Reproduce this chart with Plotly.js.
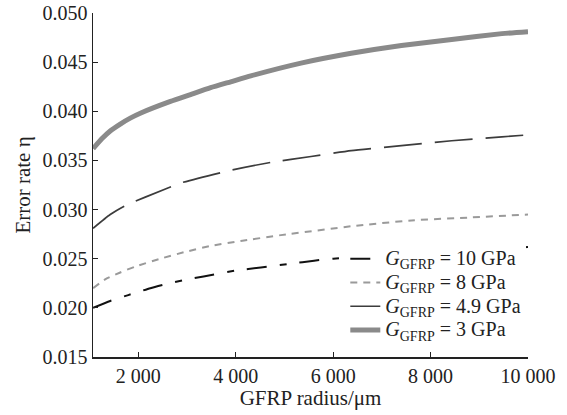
<!DOCTYPE html>
<html><head><meta charset="utf-8">
<script src="https://cdn.plot.ly/plotly-3.0.1.min.js"></script>
<style>html,body{margin:0;padding:0;background:#fff}#c{width:567px;height:415px}</style>
</head><body><div id="c"></div>
<script>
const r3 = [1072, 1250, 1423, 1630, 1835, 2041, 2660, 3072, 3485, 3897, 4309, 5340, 6371, 7402, 8433, 9464, 10000];
const eta3 = [0.0362, 0.0372, 0.0380, 0.0387, 0.0393, 0.0398, 0.0410, 0.0417, 0.0424, 0.0430, 0.0436, 0.0449, 0.0459, 0.0467, 0.0473, 0.0479, 0.0481];
const r49 = [1072, 1423, 1732, 2557, 2866, 3897, 4722, 5546, 6371, 7402, 8433, 9464, 10000];
const eta49 = [0.0281, 0.0295, 0.0304, 0.0321, 0.0327, 0.0340, 0.0348, 0.0354, 0.0360, 0.0365, 0.0370, 0.0374, 0.0376];
const r8 = [1072, 1320, 1629, 1938, 2454, 2969, 3485, 4103, 4928, 6371, 7608, 8845, 10000];
const eta8 = [0.0220, 0.0229, 0.0236, 0.0242, 0.0250, 0.0257, 0.0263, 0.0268, 0.0274, 0.0283, 0.0289, 0.0292, 0.0295];
const r10 = [1072, 1423, 1794, 2247, 2557, 2907, 3340, 4000, 4516, 5134, 5608, 6000, 7000, 8000, 9000, 10000];
const eta10 = [0.0200, 0.0207, 0.0213, 0.0220, 0.0224, 0.0228, 0.0232, 0.0238, 0.0241, 0.0245, 0.0248, 0.0250, 0.0253, 0.0256, 0.0259, 0.0262];
const gpa = ["10", "8", "4.9", "3"];
const names = gpa.map(g => '<span style="font-size:20px"><i>G</i><sub>GFRP</sub> = ' + g + ' GPa</span>');
const xTicks = [2000, 4000, 6000, 8000, 10000];
const xTickText = ["2 000", "4 000", "6 000", "8 000", "10 000"];
const yTicks = [0.015, 0.020, 0.025, 0.030, 0.035, 0.040, 0.045, 0.050];
const yTickText = ["0.015", "0.020", "0.025", "0.030", "0.035", "0.040", "0.045", "0.050"];

const traces = [
  {x: r10, y: eta10, name: names[0], mode: "lines", line: {color: "#111", width: 2, dash: "20px,13px,7px,13px", shape: "spline", smoothing: 0.5}},
  {x: r8, y: eta8, name: names[1], mode: "lines", line: {color: "#9a9a9a", width: 2, dash: "7px,6px", shape: "spline", smoothing: 0.5}},
  {x: r49, y: eta49, name: names[2], mode: "lines", line: {color: "#3c3c3c", width: 1.7, dash: "38px,13px", shape: "spline", smoothing: 0.5}},
  {x: r3, y: eta3, name: names[3], mode: "lines", line: {color: "#8a8a8a", width: 5, shape: "spline", smoothing: 0.5}}
];
const fam = "Liberation Serif, Times New Roman, serif";
const layout = {
  width: 567, height: 415,
  margin: {l: 93, r: 39, t: 13, b: 58},
  paper_bgcolor: "#fff", plot_bgcolor: "#fff",
  font: {family: fam, color: "#222", size: 20},
  showlegend: true,
  legend: {x: 0.58, xanchor: "left", y: 0.335, yanchor: "top", bgcolor: "#fff",
           font: {family: fam, size: 16, color: "#222"}, tracegroupgap: 0},
  xaxis: {range: [1070, 10000], tickvals: xTicks, ticktext: xTickText, showgrid: false, zeroline: false,
          showline: true, linecolor: "#222", linewidth: 1.5, ticks: "inside", ticklen: 5, tickcolor: "#222",
          tickfont: {size: 20}, title: {text: "GFRP radius/μm", font: {size: 21}, standoff: 5}},
  yaxis: {range: [0.015, 0.050], tickvals: yTicks, ticktext: yTickText, showgrid: false, zeroline: false,
          showline: true, linecolor: "#222", linewidth: 1.5, ticks: "inside", ticklen: 5, tickcolor: "#222",
          tickfont: {size: 20}, title: {text: "Error rate η", font: {size: 21}, standoff: 6}}
};
Plotly.newPlot("c", traces, layout, {displayModeBar: false, staticPlot: true});
</script>
</body></html>
